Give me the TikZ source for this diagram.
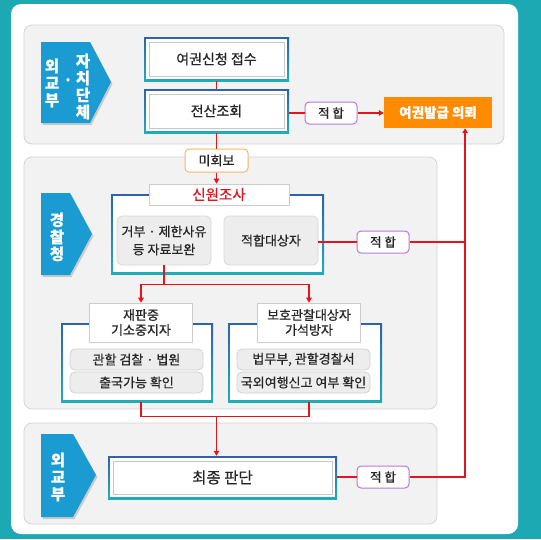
\documentclass[tikz,border=0pt]{standalone}
\usepackage{fontspec}
\setmainfont{Noto Sans CJK KR}[FakeBold=0.6]
\usepackage{tikz}
\usetikzlibrary{positioning,calc,arrows.meta,shadows}

\definecolor{bgteal}{HTML}{1CA9B3}
\definecolor{labelblue}{HTML}{1A9BD1}
\definecolor{frameblue}{HTML}{2E62AC}
\definecolor{frameteal}{HTML}{20AEB6}
\definecolor{panelgrey}{HTML}{F2F2F2}
\definecolor{panelline}{HTML}{D4D4D4}
\definecolor{pillgrey}{HTML}{EDEDED}
\definecolor{issueorange}{HTML}{FF8C00}
\definecolor{okpurple}{HTML}{B677DB}
\definecolor{replyorange}{HTML}{F5B768}
\definecolor{flowred}{HTML}{E5141C}
\definecolor{textdark}{HTML}{262626}

\tikzset{
  panelbox/.style={fill=panelgrey, draw=panelline, line width=0.8pt, rounded corners=8pt},
  agency/.style={text=white, font=\fontsize{15.5}{17}\selectfont\bfseries, align=center, inner sep=0pt},
  bluframe/.style={top color=frameblue, bottom color=frameteal, draw=none, inner sep=0pt,
    path picture={\fill[white] ([shift={(2.2pt,2.2pt)}]path picture bounding box.south west)
      rectangle ([shift={(-2.2pt,-2.2pt)}]path picture bounding box.north east);}},
  dbox/.style={top color=frameblue, bottom color=frameteal, draw=none, inner sep=0pt,
    text=textdark, font=\fontsize{14}{16}\selectfont,
    path picture={\fill[white] ([shift={(2.2pt,2.2pt)}]path picture bounding box.south west)
      rectangle ([shift={(-2.2pt,-2.2pt)}]path picture bounding box.north east);
      \draw[black!22, line width=0.8pt] ([shift={(5pt,5pt)}]path picture bounding box.south west)
      rectangle ([shift={(-5pt,-5pt)}]path picture bounding box.north east);}},
  titlebox/.style={fill=white, draw=black!20, line width=0.6pt, inner sep=0pt, align=center,
    text=textdark, font=\fontsize{13}{15}\selectfont},
  innerbox/.style={fill=pillgrey, draw=black!15, line width=0.8pt, rounded corners=5pt,
    minimum width=94pt, minimum height=49pt, inner sep=0pt, align=center,
    text=textdark, font=\fontsize{13}{18}\selectfont},
  pillbox/.style={fill=pillgrey, draw=black!18, line width=0.8pt, rounded corners=5pt,
    minimum width=133pt, minimum height=21pt, inner sep=0pt,
    text=textdark, font=\fontsize{13}{15}\selectfont},
  okbox/.style={fill=white, draw=okpurple, line width=1pt, rounded corners=4pt,
    minimum width=52pt, minimum height=22pt, inner sep=0pt,
    text=textdark, font=\fontsize{12.5}{14}\selectfont},
  replybox/.style={fill=white, draw=replyorange, line width=1pt, rounded corners=4pt,
    minimum width=63pt, minimum height=23pt, inner sep=0pt,
    text=textdark, font=\fontsize{13}{15}\selectfont},
  issuebox/.style={fill=issueorange, draw=none, minimum width=108pt, minimum height=31pt,
    inner sep=0pt, text=white, font=\fontsize{13.5}{16}\selectfont\bfseries},
  redline/.style={draw=flowred, line width=1.4pt},
  redtip/.style={-{Triangle[length=5pt,width=5.5pt]}}
}

\begin{document}
\begin{tikzpicture}[x=1pt,y=-1pt]
    % Background
    \fill[bgteal] (0,0) rectangle (541,539);
    \useasboundingbox (0,0) rectangle (541,539);
    \fill[white, rounded corners=10pt] (11,4) rectangle (518,534);

    % Stage panels
    \draw[panelbox] (24,25) rectangle (504,144);
    \draw[panelbox] (24,157) rectangle (437,409);
    \draw[panelbox] (24,423) rectangle (437,524);

    % Agency tags
    \fill[labelblue, drop shadow={shadow xshift=1.5pt, shadow yshift=-2pt, opacity=0.35}]
        (41,42) -- (90,42) -- (111,82) -- (90,123) -- (41,123) -- cycle;
    \fill[labelblue, drop shadow={shadow xshift=1.5pt, shadow yshift=-2pt, opacity=0.35}]
        (41,193) -- (70,193) -- (92,234) -- (70,275) -- (41,275) -- cycle;
    \fill[labelblue, drop shadow={shadow xshift=1.5pt, shadow yshift=-2pt, opacity=0.35}]
        (41,434) -- (73,434) -- (96,475) -- (73,517) -- (41,517) -- cycle;
    \node[agency] (mofa1) at (52,83) {외\\교\\부};
    \node[agency] (dot1) at (68,82) {·};
    \node[agency] (local) at (83,86.5) {자\\치\\단\\체};
    \node[agency] (police) at (57,237) {경\\찰\\청};
    \node[agency] (mofa2) at (58,477) {외\\교\\부};

    % Application
    \node[dbox, minimum width=145pt, minimum height=44pt] (apply) at (216.5,59) {여권신청 접수};
    \node[dbox, minimum width=145pt, minimum height=44pt] (lookup) at (216.5,111) {전산조회};
    \node[okbox] (ok1) at (331,113) {적 합};
    \node[issuebox] (issue) at (438,112.5) {여권발급 의뢰};
    \node[replybox] (noreply) at (216.5,160.5) {미회보};

    % Identity check
    \node[bluframe, minimum width=213pt, minimum height=80pt] (checkframe) at (217.5,234) {};
    \node[titlebox, minimum width=140pt, minimum height=21pt, text=flowred,
          font=\fontsize{14.5}{16}\selectfont] (checktitle) at (219,194.5) {신원조사};
    \node[innerbox] (refuse) at (164,240.5) {거부 · 제한사유\\등 자료보완};
    \node[innerbox] (fit) at (271,240.5) {적합대상자};
    \node[okbox] (ok2) at (383,242) {적 합};

    % Special cases
    \node[bluframe, minimum width=152pt, minimum height=79pt] (trialframe) at (137,362.5) {};
    \node[titlebox, minimum width=103pt, minimum height=39pt] (trialtitle) at (141,322.5) {재판중\\기소중지자};
    \node[pillbox] (court) at (136.5,359.5) {관할 검찰 · 법원};
    \node[pillbox] (exitok) at (136.5,382.5) {출국가능 확인};
    \node[bluframe, minimum width=154pt, minimum height=79pt] (probframe) at (305,362.5) {};
    \node[titlebox, minimum width=103pt, minimum height=39pt] (probtitle) at (309,322.5) {보호관찰대상자\\가석방자};
    \node[pillbox] (justice) at (303.5,359.5) {법무부, 관할경찰서};
    \node[pillbox] (travel) at (303.5,382.5) {국외여행신고 여부 확인};

    % Final decision
    \node[dbox, minimum width=229pt, minimum height=43pt,
          font=\fontsize{15.5}{17}\selectfont] (final) at (222.5,477.5) {최종 판단};
    \node[okbox] (ok3) at (383,477) {적 합};

    % Connectors
    \coordinate (riser) at ($(issue.south west)!0.75!(issue.south east)$);
    \draw[redline] (apply.south) -- (lookup.north);
    \draw[redline] (ok1.west -| lookup.east) -- (ok1.west);
    \draw[redline, redtip] (ok1.east) -- (ok1.east -| issue.west);
    \draw[redline] (lookup.south) -- (noreply.north);
    \draw[redline, redtip] (noreply.south) -- (noreply.south |- checktitle.north);
    \draw[redline] (ok2.west -| fit.east) -- (ok2.west);
    \draw[redline] (ok2.east) -- (ok2.east -| riser);
    \draw[redline] (ok3.west -| final.east) -- (ok3.west);
    \draw[redline, redtip] (ok3.east) -| (riser);
    \draw[redline] (refuse.south) -- ++(0,19) coordinate (split);
    \draw[redline, redtip] (split) -| (trialtitle.north);
    \draw[redline, redtip] (split) -| (probtitle.north);
    \draw[redline] (trialtitle |- trialframe.south) -- ++(0,14) coordinate (joinl)
        -- (joinl -| probtitle) -- (probtitle |- probframe.south);
    \draw[redline, redtip] (joinl -| lookup) -- (lookup |- final.north);
\end{tikzpicture}
\end{document}
